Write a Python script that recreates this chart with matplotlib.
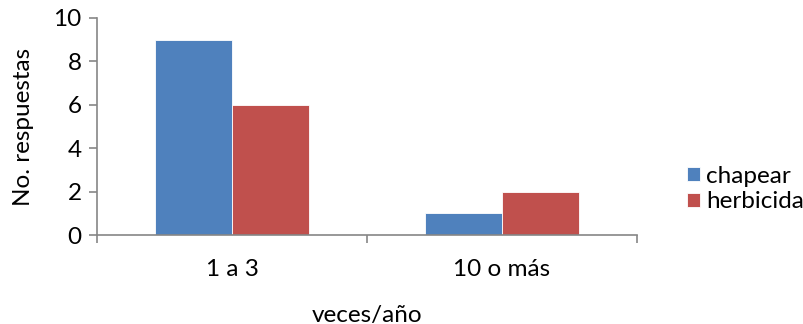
import matplotlib
matplotlib.use("Agg")
import matplotlib.pyplot as plt
import numpy as np

categories = ["1 a 3", "10 o más"]
chapear = [9, 1]
herbicida = [6, 2]
series_names = ["chapear", "herbicida"]
colors = ["#4F81BD", "#C0504D"]

plt.rcParams['font.family'] = ['Lato', 'DejaVu Sans']
FS = 17.5

fig = plt.figure(figsize=(8.04, 3.24), dpi=100)
ax = fig.add_axes([97/804, 1-235/324, (637-97)/804, (235-18)/324])

x = np.arange(len(categories))
w = 0.285
ax.bar(x - w/2, chapear, w, color=colors[0], edgecolor="white", linewidth=0.6, label=series_names[0])
ax.bar(x + w/2, herbicida, w, color=colors[1], edgecolor="white", linewidth=0.6, label=series_names[1])

ax.set_xlim(-0.5, 1.5)
ax.set_ylim(0, 10)
ax.set_yticks([0, 2, 4, 6, 8, 10])
ax.set_xticks(x)
ax.set_xticklabels(categories)
ax.set_xticks([-0.5, 0.5, 1.5], minor=True)
ax.tick_params(axis='x', which='major', length=0, pad=17, labelsize=FS)
ax.tick_params(axis='x', which='minor', length=6, color="#868686", width=1.2, direction='out')
ax.tick_params(axis='y', length=6, color="#868686", width=1.2, labelsize=FS, pad=5)

for s in ["top", "right"]:
    ax.spines[s].set_visible(False)
for s in ["left", "bottom"]:
    ax.spines[s].set_color("#868686")
    ax.spines[s].set_linewidth(1.2)

ax.set_ylabel("No. respuestas", fontsize=FS, labelpad=14)
ax.set_xlabel("veces/año", fontsize=FS, labelpad=18)

fig.legend(loc="center left", bbox_to_anchor=(677/804, 1-189/324), frameon=False,
           fontsize=FS, handlelength=0.55, handleheight=0.55, handletextpad=0.25,
           labelspacing=0.2, borderaxespad=0)

fig.savefig("out.png", dpi=100)
